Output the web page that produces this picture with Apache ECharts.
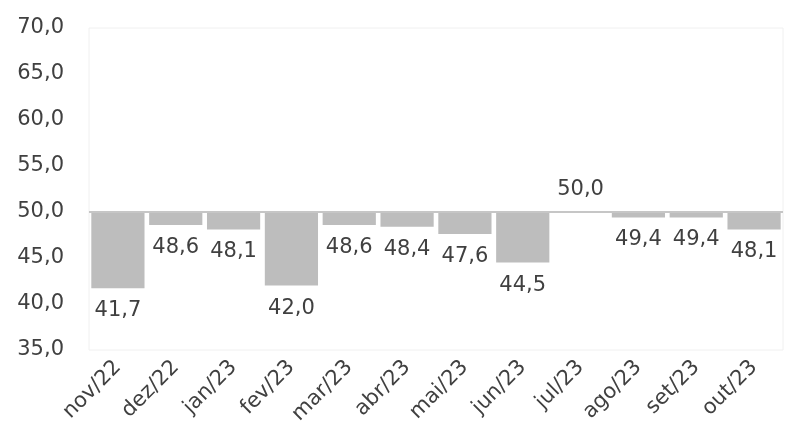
<!DOCTYPE html>
<html>
<head>
<meta charset="utf-8">
<script src="https://cdn.jsdelivr.net/npm/echarts@6/dist/echarts.min.js"></script>
<style>
  html, body { margin: 0; padding: 0; background: #fff; }
  #chart { width: 785px; height: 446px; }
</style>
</head>
<body>
<div id="chart"></div>
<script>
var months = ['nov/22', 'dez/22', 'jan/23', 'fev/23', 'mar/23', 'abr/23',
  'mai/23', 'jun/23', 'jul/23', 'ago/23', 'set/23', 'out/23']
var values = [41.7, 48.6, 48.1, 42.0, 48.6, 48.4, 47.6, 44.5, 50.0, 49.4, 49.4, 48.1]
var baseline = 50
var yTicks = [35, 70, 5]

var fmt = function (v) { return v.toFixed(1).replace('.', ',') }

// bars hang from the 50 line: invisible stack up to the value, grey piece from value to 50
var lower = values.map(function (v) { return Math.min(v, baseline) })
var gap = values.map(function (v) {
  return {
    value: Math.abs(baseline - v),
    label: { position: v < baseline ? 'bottom' : 'top' }
  }
})

var chart = echarts.init(document.getElementById('chart'))
chart.setOption({
  backgroundColor: '#fff',
  animation: false,
  textStyle: { fontFamily: 'DejaVu Sans' },
  grid: {
    left: 89, right: 2, top: 28, bottom: 96,
    show: true, borderColor: '#f0f0f0', borderWidth: 1
  },
  xAxis: {
    type: 'category',
    data: months,
    axisLine: { show: false },
    axisTick: { show: false },
    axisLabel: {
      rotate: 45, fontSize: 21, color: '#404040', margin: 14, interval: 0
    }
  },
  yAxis: {
    type: 'value',
    min: yTicks[0], max: yTicks[1], interval: yTicks[2],
    splitLine: { show: false },
    axisLine: { show: false },
    axisTick: { show: false },
    axisLabel: {
      fontSize: 21, color: '#404040', margin: 25,
      formatter: function (v) { return fmt(v) }
    }
  },
  series: [{
    type: 'bar',
    stack: 'v',
    data: lower,
    barCategoryGap: '8%',
    itemStyle: { color: 'transparent' },
    silent: true
  }, {
    type: 'bar',
    stack: 'v',
    data: gap,
    itemStyle: { color: '#bdbdbd' },
    label: {
      show: true, fontSize: 21, color: '#404040', distance: 12,
      formatter: function (p) { return fmt(values[p.dataIndex]) }
    },
    markLine: {
      silent: true,
      symbol: 'none',
      label: { show: false },
      lineStyle: { color: '#c6c6c6', width: 2, type: 'solid' },
      data: [{ yAxis: baseline }]
    }
  }]
})
</script>
</body>
</html>
